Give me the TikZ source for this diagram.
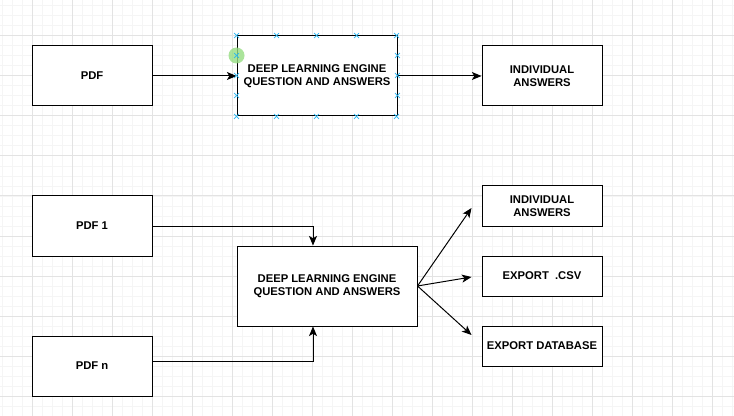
\documentclass[tikz,border=0pt]{standalone}
\usepackage{fontspec}
\setmainfont{Liberation Sans}
\usetikzlibrary{arrows.meta}
\usetikzlibrary{positioning}
\definecolor{handleblue}{RGB}{41,182,242}
\definecolor{pickgreen}{RGB}{150,222,130}

\begin{document}
\begin{tikzpicture}[
  box/.style={draw=black,line width=0.7pt,fill=white,minimum width=3cm,minimum height=1.5cm,align=center,font=\fontsize{8}{9.5}\selectfont\bfseries},
  outbox/.style={box,minimum height=1cm},
  engine/.style={box,minimum width=4cm,minimum height=2cm},
  link/.style={draw=black,line width=0.7pt,-{Stealth[length=0.24cm,width=0.2cm,inset=0.06cm]}},
  handle/.style={draw=handleblue,line width=0.5pt}
]
\useasboundingbox (0,0) rectangle (18.35,10.4);
\clip (0,0) rectangle (18.35,10.4);
\fill[white] (0,0) rectangle (18.35,10.4);
\draw[black!4,line width=0.7pt,shift={(0.05,0)}] (-0.05,0) grid[step=0.25] (18.3,10.4);
\draw[black!11,line width=0.7pt,shift={(0.8,0.5)}] (-0.8,-0.5) grid[step=1] (17.55,9.9);

\node[box] (pdf) at (2.3,8.5) {PDF};
\node[engine] (enga) at (7.925,8.5) {DEEP LEARNING ENGINE\\QUESTION AND ANSWERS};
\node[box] (ansa) at (13.55,8.5) {INDIVIDUAL\\ANSWERS};

\node[box] (pdfa) at (2.3,4.75) {PDF 1};
\node[box] (pdfn) at (2.3,1.25) {PDF n};
\node[engine,minimum width=4.5cm] (engb) at (8.175,3.25) {DEEP LEARNING ENGINE\\QUESTION AND ANSWERS};
\node[outbox] (ansb) at (13.55,5.25) {INDIVIDUAL\\ANSWERS};
\node[outbox] (csv) at (13.55,3.5) {EXPORT~~.CSV};
\node[outbox] (db) at (13.55,1.75) {EXPORT DATABASE};

\draw[link] (pdf) -- (enga);
\draw[link] (enga) -- (ansa);
\draw[link] (pdfa.east) -| ([xshift=-0.35cm]engb.north);
\draw[link] ([yshift=0.125cm]pdfn.east) -| ([xshift=-0.35cm]engb.south);
\draw[link] (engb.east) -- ([xshift=-0.25cm,yshift=-0.05cm]ansb.west);
\draw[link] (engb.east) -- ([xshift=-0.25cm,yshift=-0.025cm]csv.west);
\draw[link] (engb.east) -- ([xshift=-0.25cm,yshift=0.275cm]db.west);

% selection handles
\fill[pickgreen,opacity=0.8] ([yshift=-0.5cm]enga.north west) circle (0.2);
\foreach \hx in {0,1,2,3,4} {
  \draw[handle] ([xshift=\hx cm]enga.north west) +(-0.06,-0.06) -- +(0.06,0.06) +(-0.06,0.06) -- +(0.06,-0.06);
  \draw[handle] ([xshift=\hx cm]enga.south west) +(-0.06,-0.06) -- +(0.06,0.06) +(-0.06,0.06) -- +(0.06,-0.06);
}
\foreach \hy in {0.5,1,1.5} {
  \draw[handle] ([yshift=-\hy cm]enga.north west) +(-0.06,-0.06) -- +(0.06,0.06) +(-0.06,0.06) -- +(0.06,-0.06);
  \draw[handle] ([yshift=-\hy cm]enga.north east) +(-0.06,-0.06) -- +(0.06,0.06) +(-0.06,0.06) -- +(0.06,-0.06);
}

\end{tikzpicture}
\end{document}
